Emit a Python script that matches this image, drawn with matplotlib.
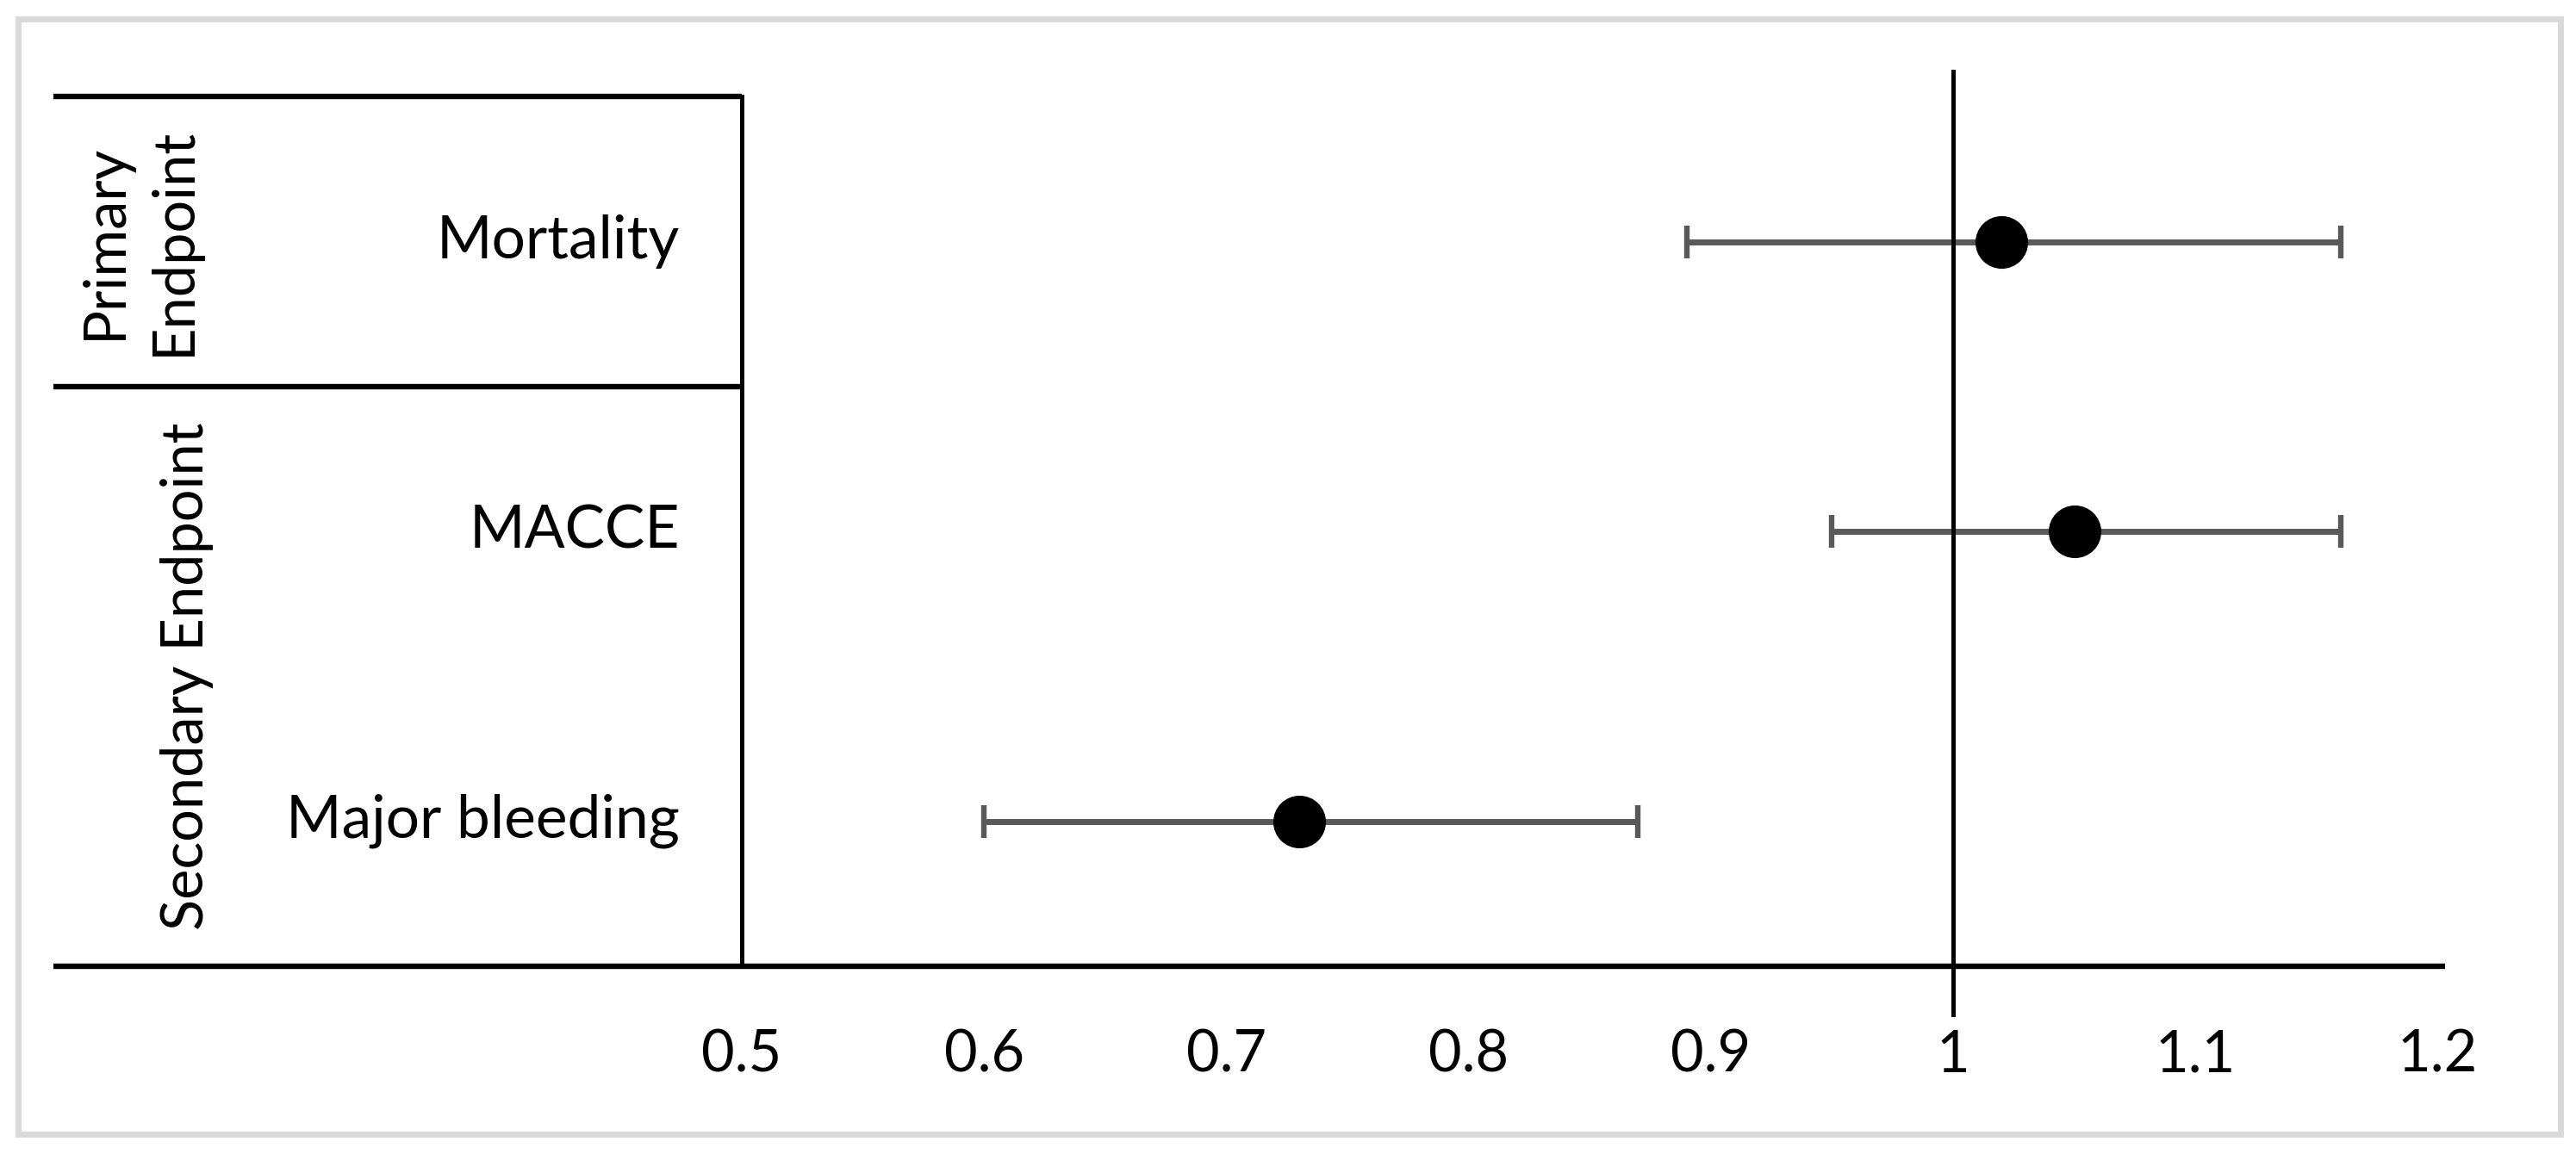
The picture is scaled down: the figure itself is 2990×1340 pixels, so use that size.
import matplotlib
matplotlib.use("Agg")
import matplotlib.pyplot as plt
from matplotlib.patches import Rectangle

plt.rcParams["font.family"] = ["Lato", "DejaVu Sans"]
plt.rcParams["font.size"] = 24

# Data
outcomes = ["Mortality", "MACCE", "Major bleeding"]
ypos = [3, 2, 1]
ratio = [1.02, 1.05, 0.73]
ci_low = [0.89, 0.95, 0.60]
ci_high = [1.16, 1.16, 0.87]
groups = ["Primary\nEndpoint", "Secondary Endpoint"]
group_y = [3, 1.5]
xticks = [0.5, 0.6, 0.7, 0.8, 0.9, 1.0, 1.1, 1.2]
xtick_labels = ["0.5", "0.6", "0.7", "0.8", "0.9", "1", "1.1", "1.2"]

W, H = 2990, 1340
fig = plt.figure(figsize=(W / 200, H / 200), dpi=200)
ax = fig.add_axes([17.4 / W, 0.11265, 2952.6 / W, 0.85377])
ax.set_xlim(0.2, 1.25)
ax.set_ylim(0.3, 3.7)
for s in ax.spines.values():
    s.set_visible(False)
ax.set_yticks([])
ax.set_xticks(xticks, xtick_labels)
ax.tick_params(axis="x", length=0, pad=2)

# table grid on the left
tab_left = 0.216
ax.plot([tab_left, 0.5], [3.5, 3.5], color="black", lw=2.3, solid_capstyle="butt")
ax.plot([tab_left, 0.5], [2.5, 2.5], color="black", lw=2.3, solid_capstyle="butt")
ax.plot([0.5, 0.5], [0.5, 3.5], color="black", lw=1.8)
ax.plot([tab_left, 1.203], [0.5, 0.5], color="black", lw=2.3, solid_capstyle="butt")

# error bars
xerr = [[r - l for r, l in zip(ratio, ci_low)], [h - r for r, h in zip(ratio, ci_high)]]
ax.errorbar(ratio, ypos, xerr=xerr, fmt="none", ecolor="#595959",
            elinewidth=2.5, capsize=7, capthick=2.3, zorder=2)

# reference line at 1
ax.plot([1, 1], [0.333, 3.588], color="black", lw=1.8, clip_on=False, zorder=3)

ax.plot(ratio, ypos, "o", color="black", markersize=21, zorder=4)

for name, y in zip(outcomes, ypos):
    ax.text(0.4744, y, name, ha="right", va="center", fontsize=25)

ax.text(0.2514, group_y[0], groups[0], rotation=90, ha="center", va="center",
        linespacing=1.35)
ax.text(0.271, group_y[1], groups[1], rotation=90, ha="center", va="center")

# outer frame
fig.patches.append(Rectangle((20.5 / W, (H - 1316.5) / H), 2951 / W, 1295 / H,
                             transform=fig.transFigure, fill=False,
                             ec="#d9d9d9", lw=2.5))

fig.savefig("out.png", dpi=200)
